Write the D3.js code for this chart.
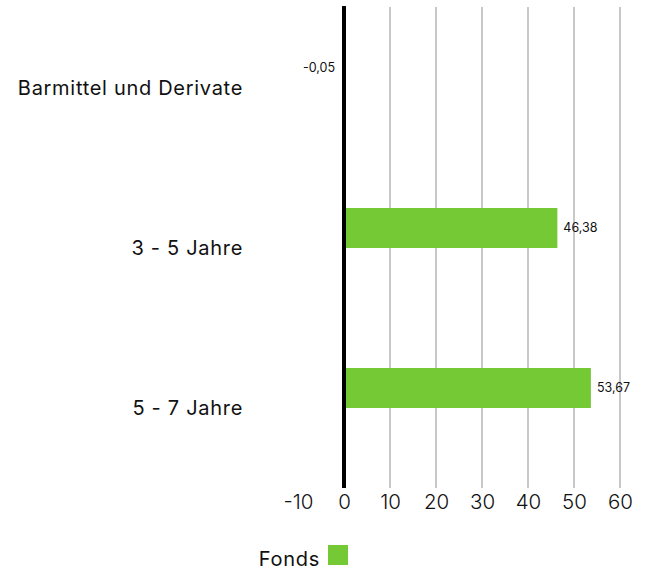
<!DOCTYPE html>
<html><head><meta charset="utf-8">
<script src="https://cdn.jsdelivr.net/npm/d3@7"></script>
<style>
body{margin:0;background:#fff;}
text{font-family:"Inter","Noto Sans",sans-serif;fill:#111;}
</style></head>
<body><svg id="c" width="648" height="572"></svg>
<script>
const categories = ["Barmittel und Derivate", "3 - 5 Jahre", "5 - 7 Jahre"];
const values = [-0.05, 46.38, 53.67];
const valueLabels = ["-0,05", "46,38", "53,67"];
const ticks = [-10, 0, 10, 20, 30, 40, 50, 60];
const seriesName = "Fonds";
const color = "#74c934";

const svg = d3.select("#c");
const x = d3.scaleLinear().domain([-10, 60]).range([298, 620]);
const y = d3.scaleBand().domain(categories).range([8, 488]);

// gridlines
svg.append("g").selectAll("line").data(ticks.filter(t => t > 0)).join("line")
  .attr("x1", d => x(d)).attr("x2", d => x(d))
  .attr("y1", 7).attr("y2", 488)
  .attr("stroke", "#c8c8c8").attr("stroke-width", 2);

// bars (upper half of band)
const bh = y.bandwidth() / 4;
svg.append("g").selectAll("rect").data(values).join("rect")
  .attr("x", d => Math.min(x(0), x(d)))
  .attr("width", d => Math.abs(x(d) - x(0)))
  .attr("y", (d, i) => y(categories[i]) + y.bandwidth() / 2 - bh)
  .attr("height", bh)
  .attr("fill", color);

// zero line
svg.append("line").attr("x1", x(0)).attr("x2", x(0)).attr("y1", 6).attr("y2", 488)
  .attr("stroke", "#000").attr("stroke-width", 4);

// value labels
svg.append("g").selectAll("text").data(values).join("text")
  .attr("x", d => d < 0 ? x(0) - 9 : x(d) + 6)
  .attr("y", (d, i) => y(categories[i]) + y.bandwidth() / 2 - bh / 2)
  .attr("dy", "0.35em")
  .attr("text-anchor", d => d < 0 ? "end" : "start")
  .attr("font-size", 12.5)
  .text((d, i) => valueLabels[i]);

// category labels
svg.append("g").selectAll("text").data(categories).join("text")
  .attr("x", 243)
  .attr("y", d => y(d) + y.bandwidth() / 2)
  .attr("dy", "0.35em")
  .attr("text-anchor", "end")
  .attr("font-size", 20)
  .attr("letter-spacing", 0.7)
  .text(d => d);

// x axis tick labels
const ax = d3.axisBottom(x).tickValues(ticks).tickSize(0).tickPadding(0)
  .tickFormat(d => String(d));
const g = svg.append("g").attr("transform", "translate(0,494)").call(ax);
g.select(".domain").remove();
g.selectAll("text").attr("font-size", 20.5).attr("fill", "#111").attr("dy", "0.71em")
  .style("font-family", '"Inter","Noto Sans",sans-serif').attr("font-weight", 300);

// legend
svg.append("text").attr("x", 320).attr("y", 566).attr("text-anchor", "end")
  .attr("font-size", 20).attr("letter-spacing", 0.7).text(seriesName);
svg.append("rect").attr("x", 328).attr("y", 545).attr("width", 20).attr("height", 20).attr("fill", color);
</script></body></html>
